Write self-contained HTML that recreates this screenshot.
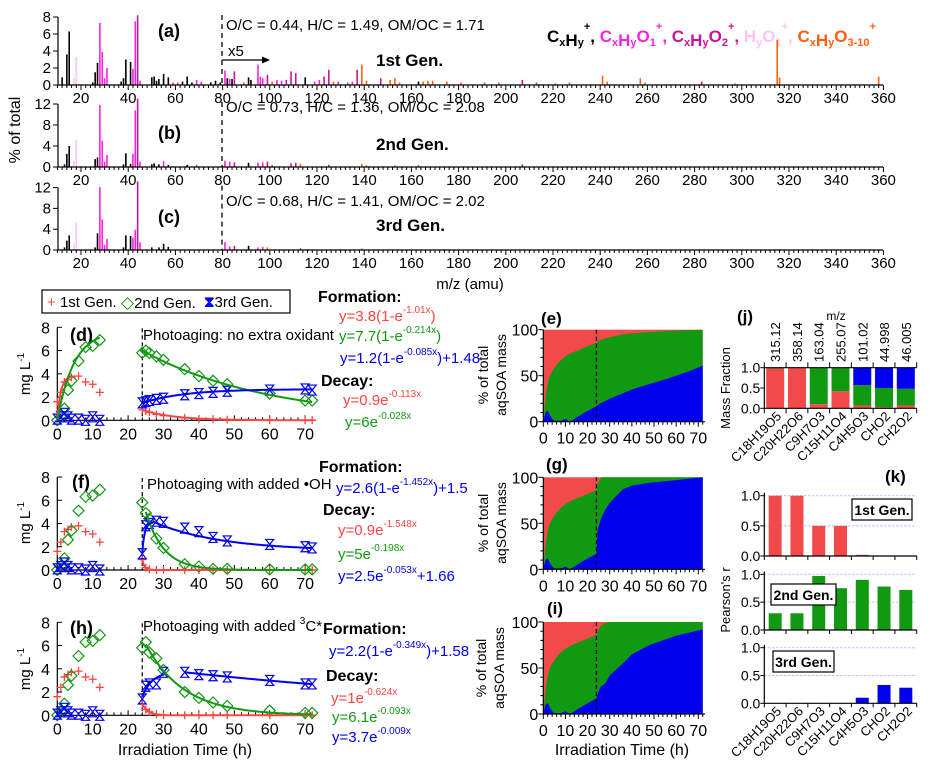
<!DOCTYPE html>
<html><head><meta charset="utf-8">
<style>
html,body{margin:0;padding:0;background:#fff;}
svg{display:block;font-family:"Liberation Sans",Arial,sans-serif;}
.hd{font-size:16px;}
</style></head>
<body>
<svg id="fig" width="932" height="772" viewBox="0 0 932 772" xmlns="http://www.w3.org/2000/svg">
<rect width="932" height="772" fill="#fff"/>
<text x="20" y="130" font-size="16" text-anchor="middle" transform="rotate(-90 20 130)">% of total</text>
<text x="470" y="289" font-size="15" text-anchor="middle">m/z (amu)</text>
<text x="158" y="37" font-size="18" font-weight="bold">(a)</text>
<text x="158" y="139" font-size="18" font-weight="bold">(b)</text>
<text x="158" y="223" font-size="18" font-weight="bold">(c)</text>
<text x="226" y="30" font-size="15">O/C = 0.44, H/C = 1.49, OM/OC = 1.71</text>
<text x="226" y="112" font-size="15">O/C = 0.73, H/C = 1.36, OM/OC = 2.08</text>
<text x="226" y="206" font-size="15">O/C = 0.68, H/C = 1.41, OM/OC = 2.02</text>
<text x="228" y="56" font-size="15">x5</text>
<line x1="222" y1="60" x2="264" y2="60" stroke="#000" stroke-width="1.2"/>
<polygon points="270,60 262,56.5 262,63.5" fill="#000"/>
<text x="376" y="66" font-size="17" font-weight="bold">1st Gen.</text>
<text x="376" y="150" font-size="17" font-weight="bold">2nd Gen.</text>
<text x="376" y="231" font-size="17" font-weight="bold">3rd Gen.</text>
<text x="547" y="42" font-size="17" font-weight="bold"><tspan fill="#000">C<tspan font-size="11" dy="4">x</tspan>H<tspan font-size="11" dy="0">y</tspan><tspan font-size="11" dy="-16">+</tspan><tspan dy="12">, </tspan></tspan><tspan fill="#ff22dd">C<tspan font-size="11" dy="4">x</tspan>H<tspan font-size="11">y</tspan><tspan dy="-4">O</tspan><tspan font-size="11" dy="4">1</tspan><tspan font-size="11" dy="-16">+</tspan><tspan dy="12">, </tspan></tspan><tspan fill="#c8149b">C<tspan font-size="11" dy="4">x</tspan>H<tspan font-size="11">y</tspan><tspan dy="-4">O</tspan><tspan font-size="11" dy="4">2</tspan><tspan font-size="11" dy="-16">+</tspan><tspan dy="12">, </tspan></tspan><tspan fill="#ffc4f2">H<tspan font-size="11" dy="4">y</tspan><tspan dy="-4">O</tspan><tspan font-size="11" dy="4">1</tspan><tspan font-size="11" dy="-16">+</tspan><tspan dy="12">, </tspan></tspan><tspan fill="#ff6010">C<tspan font-size="11" dy="4">x</tspan>H<tspan font-size="11">y</tspan><tspan dy="-4">O</tspan><tspan font-size="11" dy="4">3-10</tspan><tspan font-size="11" dy="-16">+</tspan></tspan></text>

<rect x="42" y="290" width="248" height="23" fill="#fff" stroke="#000" stroke-width="1.2"/>
<text x="47" y="307" font-size="15" fill="#ff4444">+ <tspan fill="#000">1st Gen.</tspan></text>
<text x="121" y="308" font-size="17" fill="#119911">◇<tspan fill="#000" font-size="15">2nd Gen.</tspan></text>
<text x="204" y="307" font-size="15" fill="#0000ee" font-weight="bold">⧗<tspan fill="#000" font-weight="normal">3rd Gen.</tspan></text>

<text x="30" y="374" font-size="15" text-anchor="middle" transform="rotate(-90 30 374)">mg L<tspan font-size="10" dy="-6">-1</tspan></text>
<text x="30" y="523" font-size="15" text-anchor="middle" transform="rotate(-90 30 523)">mg L<tspan font-size="10" dy="-6">-1</tspan></text>
<text x="30" y="669" font-size="15" text-anchor="middle" transform="rotate(-90 30 669)">mg L<tspan font-size="10" dy="-6">-1</tspan></text>
<text x="70" y="341" font-size="18" font-weight="bold">(d)</text>
<text x="72" y="488" font-size="18" font-weight="bold">(f)</text>
<text x="70" y="634" font-size="18" font-weight="bold">(h)</text>
<text x="143" y="340" font-size="15">Photoaging: no extra oxidant</text>
<text x="147" y="489" font-size="15">Photoaging with added •OH</text>
<text x="143" y="631" font-size="15">Photoaging with added <tspan font-size="10" dy="-7">3</tspan><tspan dy="7">C*</tspan></text>
<text x="185" y="755" font-size="16" text-anchor="middle">Irradiation Time (h)</text>

<g font-size="15">
<text x="318" y="302" font-weight="bold" class="hd" fill="#000">Formation:</text>
<text x="339" y="321" fill="#ff4444">y=3.8(1-e<tspan font-size="10" dy="-8">-1.01x</tspan><tspan dy="8">)</tspan></text>
<text x="339" y="341" fill="#119911">y=7.7(1-e<tspan font-size="10" dy="-8">-0.214x</tspan><tspan dy="8">)</tspan></text>
<text x="340" y="363" fill="#0000ee">y=1.2(1-e<tspan font-size="10" dy="-8">-0.085x</tspan><tspan dy="8">)+1.48</tspan></text>
<text x="321" y="386" font-weight="bold" class="hd" fill="#000">Decay:</text>
<text x="343" y="405" fill="#ff4444">y=0.9e<tspan font-size="10" dy="-8">-0.113x</tspan></text>
<text x="345" y="427" fill="#119911">y=6e<tspan font-size="10" dy="-8">-0.028x</tspan></text>
</g>
<g font-size="15">
<text x="319" y="472" font-weight="bold" class="hd" fill="#000">Formation:</text>
<text x="336" y="493" fill="#0000ee">y=2.6(1-e<tspan font-size="10" dy="-8">-1.452x</tspan><tspan dy="8">)+1.5</tspan></text>
<text x="323" y="515" font-weight="bold" class="hd" fill="#000">Decay:</text>
<text x="338" y="535" fill="#ff4444">y=0.9e<tspan font-size="10" dy="-8">-1.548x</tspan></text>
<text x="338" y="559" fill="#119911">y=5e<tspan font-size="10" dy="-8">-0.198x</tspan></text>
<text x="338" y="581" fill="#0000ee">y=2.5e<tspan font-size="10" dy="-8">-0.053x</tspan><tspan dy="8">+1.66</tspan></text>
</g>
<g font-size="15">
<text x="323" y="634" font-weight="bold" class="hd" fill="#000">Formation:</text>
<text x="329" y="656" fill="#0000ee">y=2.2(1-e<tspan font-size="10" dy="-8">-0.349x</tspan><tspan dy="8">)+1.58</tspan></text>
<text x="326" y="681" font-weight="bold" class="hd" fill="#000">Decay:</text>
<text x="331" y="703" fill="#ff4444">y=1e<tspan font-size="10" dy="-8">-0.624x</tspan></text>
<text x="332" y="722" fill="#119911">y=6.1e<tspan font-size="10" dy="-8">-0.093x</tspan></text>
<text x="332" y="742" fill="#0000ee">y=3.7e<tspan font-size="10" dy="-8">-0.009x</tspan></text>
</g>

<text x="541" y="324" font-size="17" font-weight="bold">(e)</text>
<text x="546" y="470" font-size="17" font-weight="bold">(g)</text>
<text x="547" y="614" font-size="17" font-weight="bold">(i)</text>
<g font-size="14">
<text x="488" y="375" text-anchor="middle" transform="rotate(-90 488 375)">% of total</text>
<text x="506" y="375" text-anchor="middle" transform="rotate(-90 506 375)">aqSOA mass</text>
<text x="488" y="523" text-anchor="middle" transform="rotate(-90 488 523)">% of total</text>
<text x="506" y="523" text-anchor="middle" transform="rotate(-90 506 523)">aqSOA mass</text>
<text x="486" y="668" text-anchor="middle" transform="rotate(-90 486 668)">% of total</text>
<text x="504" y="668" text-anchor="middle" transform="rotate(-90 504 668)">aqSOA mass</text>
</g>
<text x="622" y="755" font-size="16" text-anchor="middle">Irradiation Time (h)</text>

<text x="737" y="322" font-size="17" font-weight="bold">(j)</text>
<text x="836" y="320" font-size="12" text-anchor="middle">m/z</text>
<text x="730" y="388" font-size="13" text-anchor="middle" transform="rotate(-90 730 388)">Mass Fraction</text>
<text x="885" y="482" font-size="17" font-weight="bold">(k)</text>
<text x="730" y="600" font-size="13" text-anchor="middle" transform="rotate(-90 730 600)">Pearson's r</text>
<rect x="852" y="499" width="60" height="21" fill="#fff" stroke="#000" stroke-width="1.2"/>
<text x="882" y="515" font-size="14" font-weight="bold" text-anchor="middle">1st Gen.</text>
<g id="layer"></g>
<rect x="771" y="584" width="65" height="21" fill="#fff" stroke="#000" stroke-width="1.2"/>
<text x="803.5" y="600" font-size="14" font-weight="bold" text-anchor="middle">2nd Gen.</text>
<rect x="773" y="651" width="61" height="21" fill="#fff" stroke="#000" stroke-width="1.2"/>
<text x="803.5" y="667" font-size="14" font-weight="bold" text-anchor="middle">3rd Gen.</text>
</svg>
<script>
const spectrumA = [[12,0.9,0],[14,3.6,0],[15,6.3,0],[17,0.8,3],[18,3.3,3],[25,0.3,0],[26,1.5,0],[27,2.6,0],[28,7.3,1],[29,3.9,1],[30,0.8,1],[31,2.0,1],[37,0.4,0],[38,0.8,0],[39,3.0,0],[41,2.7,0],[42,1.9,1],[43,7.5,1],[44,8.2,2],[45,0.5,1],[50,0.9,0],[51,1.0,0],[52,0.5,0],[53,0.7,0],[55,1.3,0],[57,0.9,0],[59,0.3,1],[61,0.3,1],[63,0.4,0],[65,1.0,0],[67,0.3,0],[69,0.6,1],[71,0.4,1],[75,0.3,0],[77,0.5,0],[79,0.3,0],[81,1.7,1],[82,0.8,0],[83,0.7,1],[84,0.7,0],[85,1.6,2],[89,0.3,1],[91,0.9,0],[92,0.6,0],[95,2.4,1],[96,1.0,1],[97,0.8,1],[99,1.2,2],[101,0.4,4],[103,0.6,1],[105,0.5,1],[107,0.6,2],[109,1.6,2],[111,1.4,2],[115,0.9,0],[119,0.4,1],[121,0.6,1],[123,1.0,2],[125,1.8,2],[127,0.4,4],[129,0.4,1],[133,0.3,1],[135,0.4,1],[137,1.8,2],[139,2.4,4],[141,0.5,4],[147,0.8,2],[151,0.6,4],[153,0.8,4],[155,0.3,4],[163,0.4,0],[165,0.4,4],[167,0.5,4],[169,0.5,4],[175,0.4,4],[181,0.3,4],[191,0.3,1],[197,0.3,4],[207,0.6,2],[213,0.3,1],[221,0.2,4],[227,0.3,4],[241,1.1,4],[243,0.4,4],[257,0.8,4],[259,0.3,4],[283,0.4,2],[297,0.2,4],[315,5.3,4],[316,0.9,4],[358,1.0,4]];
const spectrumB = [[13,0.5,0],[14,2.5,0],[15,4.0,0],[17,1.2,3],[18,5.2,3],[26,1.5,0],[27,1.8,0],[28,11.8,1],[29,5.0,1],[30,1.0,1],[31,2.3,1],[38,0.5,0],[39,2.6,0],[41,0.6,0],[42,2.5,1],[43,10.8,1],[44,13.0,2],[45,1.0,1],[50,0.5,0],[51,0.7,0],[53,0.5,0],[55,1.1,1],[57,0.4,0],[65,0.4,0],[69,0.4,1],[81,1.2,1],[83,1.0,1],[85,0.9,2],[91,0.8,0],[95,0.8,1],[97,0.9,1],[99,1.0,2],[101,0.4,4],[109,0.7,2],[111,0.8,2],[113,0.6,4],[125,0.4,2],[139,0.6,4],[141,0.3,4],[153,0.3,4],[163,0.4,4],[207,0.5,2]];
const spectrumC = [[13,0.5,0],[14,1.8,0],[15,2.8,0],[17,1.3,3],[18,5.3,3],[26,0.5,0],[27,3.2,0],[28,12.1,1],[29,5.9,1],[30,1.0,1],[31,2.1,1],[38,0.5,0],[39,2.8,0],[41,2.7,0],[42,2.4,1],[43,3.9,1],[44,13.2,2],[45,1.5,1],[50,0.5,0],[53,0.5,0],[55,1.2,0],[57,0.6,0],[81,1.5,1],[83,0.7,1],[85,0.8,2],[91,0.8,0],[95,0.5,1],[97,0.6,1],[99,0.5,4],[113,0.4,4],[139,0.3,4]];
const ionColors = ['#000000','#ff22dd','#c8149b','#ffc4f2','#ff6010'];

const timesPre = [0,1,2,3,4,6,8,10,12];
const red1Pre = [1.6,2.4,3.3,3.5,3.7,3.8,3.3,3.1,2.4];
const green2Pre = [0,0.3,1.0,2.6,3.4,5.1,6.3,6.4,6.9];
const blue3Pre = [0.1,0.3,0.6,0.3,0.1,0.1,0.0,0.3,0.0];
const timesPost = [24,25,26,28,30,36,40,44,48,60,70,72];
const dRed = [0.9,0.8,0.7,0.5,0.4,0.2,0.1,0.1,0.05,0.02,0.01,0.01];
const dGreen = [5.8,6.0,5.8,5.5,5.2,4.4,3.8,3.4,3.1,2.3,1.7,1.7];
const dBlue = [1.5,1.6,1.7,1.8,1.9,2.2,2.3,2.4,2.5,2.6,2.7,2.6];
const fRed = [0.9,0.2,0.05,0,0,0,0,0,0,0,0,0];
const fGreen = [5.8,4.9,4.4,2.7,1.9,0.5,0.3,0.1,0.1,0.05,0.05,0.05];
const fBlue = [1.4,3.8,4.0,4.2,4.1,3.6,3.3,2.8,2.5,2.2,2.0,1.9];
const hRed = [1.0,0.5,0.3,0.1,0,0,0,0,0,0,0,0];
const hGreen = [5.8,6.3,5.4,4.9,3.9,2.0,1.5,1.1,0.8,0.4,0.2,0.2];
const hBlue = [1.4,2.5,2.7,2.7,3.7,3.7,3.5,3.4,3.3,3.0,2.7,2.7];
const fitsPre = [['form',3.8,1.01,0,0,5,'#ff4444'],['form',7.7,0.214,0,0,12,'#119911']];
const fitsD = [['decay',0.9,0.113,0,24,72,'#ff4444'],['decay',6,0.028,0,24,72,'#119911'],['form',1.2,0.085,1.48,24,72,'#0000ee']];
const fitsF = [['decay',0.9,1.548,0,24,72,'#ff4444'],['decay',5,0.198,0,25,72,'#119911'],['form',2.6,1.452,1.5,24,27,'#0000ee'],['decay',2.5,0.053,1.66,27,72,'#0000ee']];
const fitsH = [['decay',1,0.624,0,24,72,'#ff4444'],['decay',6.1,0.093,0,25,72,'#119911'],['form',2.2,0.349,1.58,24,30,'#0000ee'],['decay',3.7,0.009,0,36,72,'#0000ee']];

const eTimes = [0,1,2,3,4,5,6,8,10,12,18,24,26,30,36,40,48,55,60,66,72];
const eBlue = [0,10,12,7,3,1,1,1,3,0,9,17,20,25,31,35,41,46,50,55,61];
const eGreen = [0,25,42,50,55,58,62,67,71,74,80,86,89,92,95,96,97.5,98.5,99,99.5,100];
const gTimes = [0,1,2,3,4,5,6,8,10,12,18,24,24.5,26,28,30,33,36,40,48,60,72];
const gBlue = [0,10,12,7,3,1,1,1,3,0,9,17,42,55,65,72,80,87,91,94,97,100];
const gGreen = [0,25,42,50,55,58,62,67,71,74,80,86,92,100,100,100,100,100,100,100,100,100];
const iTimes = [0,1,2,3,4,5,6,8,10,12,18,24,25,26,28,30,36,40,48,60,72];
const iBlue = [0,10,12,7,3,1,1,1,3,0,9,17,25,30,33,42,55,65,75,85,92];
const iGreen = [0,25,42,50,55,58,62,67,71,74,80,86,92,96,99,100,100,100,100,100,100];

const species = ['C18H19O5','C20H22O6','C9H7O3','C15H11O4','C4H5O3','CHO2','CH2O2'];
const speciesMz = ['315.12','358.14','163.04','255.07','101.02','44.998','46.005'];
const fracRed = [0.98,1.0,0.1,0.42,0.07,0.03,0.07];
const fracGreen = [0.02,0,0.9,0.58,0.5,0.47,0.41];
const fracBlue = [0,0,0,0,0.43,0.5,0.52];
const r1st = [1,1,0.5,0.5,0.02,0,0];
const r2nd = [0.3,0.3,0.97,0.75,0.9,0.78,0.72];
const r3rd = [0,0,0,0,0.1,0.33,0.28];

const NS='http://www.w3.org/2000/svg';
const svg=document.getElementById('layer');
function E(tag,a,p){const e=document.createElementNS(NS,tag);for(const k in a)e.setAttribute(k,a[k]);(p||svg).appendChild(e);return e;}
function nm(e,n){
  
  
}
function T(x,y,s,opts){const e=E('text',Object.assign({x:x,y:y,'font-size':15},opts||{}));e.textContent=s;return e;}

const xM=m=>81+(m-20)*2.36;
function spectrum(data,y0,ppu,ticks,ymax,tag){
  const g=E('g',{});
  nm(g,'spectrum-'+tag);
  data.forEach(d=>{const l=E('line',{x1:xM(d[0]),x2:xM(d[0]),y1:y0,y2:y0-d[1]*ppu,stroke:ionColors[d[2]],'stroke-width':1.6},g);
    });
  const ax=E('line',{x1:58,x2:883,y1:y0,y2:y0,stroke:'#000','stroke-width':1.2},g);
  nm(ax,'x-axis-'+tag);
  for(let m=10;m<=360;m+=2){const big=m%20===0;E('line',{x1:xM(m),x2:xM(m),y1:y0,y2:y0+(big?5:3),stroke:'#000','stroke-width':1},g);
    if(big&&m>=20){const t=T(xM(m),y0+18,String(m),{'text-anchor':'middle'});nm(t,'x-tick-'+tag+'-'+m);}}
  const ay=E('line',{x1:58,x2:58,y1:y0,y2:y0-ymax*ppu,stroke:'#000','stroke-width':1.2},g);
  nm(ay,'y-axis-'+tag);
  ticks.forEach(v=>{E('line',{x1:53,x2:58,y1:y0-v*ppu,y2:y0-v*ppu,stroke:'#000'},g);const t=T(51,y0-v*ppu+5,String(v),{'text-anchor':'end'});nm(t,'y-tick-'+tag+'-'+v);});
  const dl=E('line',{x1:222,x2:222,y1:y0-ymax*ppu-2,y2:y0,stroke:'#000','stroke-width':1.3,'stroke-dasharray':'5,4'},g);
  nm(dl,'divider-'+tag);
}
spectrum(spectrumA,85,8.5,[0,2,4,6,8],8,'a');
spectrum(spectrumB,167,5.25,[0,4,8,12],12,'b');
spectrum(spectrumC,250,5.2,[0,4,8,12],12,'c');

const xT=t=>57.3+t*3.54;
function fitVal(f,t){const x=t-f[4];return f[0]==='form'?f[1]*(1-Math.exp(-f[2]*x))+f[3]:f[1]*Math.exp(-f[2]*x)+f[3];}
function marker(type,x,y,g){let e;
  if(type==0) e=E('path',{d:`M${x-4},${y}H${x+4}M${x},${y-4}V${y+4}`,stroke:'#ff4444','stroke-width':1.3,fill:'none'},g);
  else if(type==1) e=E('path',{d:`M${x},${y-5.5}L${x+5.5},${y}L${x},${y+5.5}L${x-5.5},${y}Z`,stroke:'#119911','stroke-width':1.2,fill:'none'},g);
  else e=E('path',{d:`M${x-4},${y-5}H${x+4}L${x-4},${y+5}H${x+4}Z`,stroke:'#0000ee','stroke-width':1.2,fill:'none'},g);
  return e;}
function addFits(y0,fits,tag){const yV=v=>y0-v*93/8;const g=E('g',{});nm(g,'fits-'+tag);
  fits.forEach((f,i)=>{let d='';for(let t=f[4];t<=f[5]+0.001;t+=0.25){d+=(d?'L':'M')+xT(t).toFixed(1)+','+yV(fitVal(f,t)).toFixed(1);}
    const p=E('path',{d:d,stroke:f[6],'stroke-width':2,fill:'none'},g);
    nm(p,'fit-curve-'+tag+'-'+i);});}
function tsPanel(y0,post,fits,tag){
  const yV=v=>y0-v*93/8;
  const g=E('g',{});
  nm(g,'timeseries-'+tag);
  const ax=E('line',{x1:57.3,x2:316,y1:y0,y2:y0,stroke:'#000','stroke-width':1.2},g);
  nm(ax,'x-axis-'+tag);
  for(let t=0;t<=72;t+=2){const big=t%10===0;E('line',{x1:xT(t),x2:xT(t),y1:y0,y2:y0-(big?5:3),stroke:'#000'},g);
    if(big){const tx=T(xT(t),y0+19,String(t),{'text-anchor':'middle','font-size':16});nm(tx,'x-tick-'+tag+'-'+t);}}
  const ay=E('line',{x1:57.3,x2:57.3,y1:y0,y2:y0-93,stroke:'#000','stroke-width':1.2},g);
  nm(ay,'y-axis-'+tag);
  for(let v=0;v<=8;v+=2){E('line',{x1:57.3,x2:62,y1:yV(v),y2:yV(v),stroke:'#000'},g);const tx=T(50,yV(v)+6,String(v),{'text-anchor':'end','font-size':16});nm(tx,'y-tick-'+tag+'-'+v);}
  const dl=E('line',{x1:xT(24),x2:xT(24),y1:y0-92,y2:y0,stroke:'#000','stroke-width':1.2,'stroke-dasharray':'4,3'},g);
  nm(dl,'divider-'+tag);
  addFits(y0,fits,tag);
  [[red1Pre,0],[green2Pre,1],[blue3Pre,2]].forEach(s=>s[0].forEach((v,i)=>{const m=marker(s[1],xT(timesPre[i]),yV(v),g);nm(m,'point-'+tag+'-gen'+(s[1]+1));}));
  post.forEach((arr,k)=>arr.forEach((v,i)=>{const m=marker(k,xT(timesPost[i]),yV(v),g);nm(m,'point-'+tag+'-gen'+(k+1));}));
}
tsPanel(420.3,[dRed,dGreen,dBlue],fitsPre.concat(fitsD),'d');
tsPanel(570,[fRed,fGreen,fBlue],fitsF,'f');
tsPanel(715.3,[hRed,hGreen,hBlue],fitsH,'h');

const xA=t=>543.3+t*2.214;
function areaPanel(y0,times,blue,green,tag){
  const yP=p=>y0-p*0.92;
  const g=E('g',{});
  nm(g,'area-'+tag);
  const r=E('rect',{x:xA(0),y:yP(100),width:xA(72)-xA(0),height:92,fill:'#f24a4a'},g);
  nm(r,'area-1st-'+tag);
  let dG=`M${xA(times[0])},${y0}`;times.forEach((t,i)=>dG+=`L${xA(t).toFixed(1)},${yP(green[i]).toFixed(1)}`);dG+=`L${xA(times[times.length-1])},${y0}Z`;
  const pg=E('path',{d:dG,fill:'#129912'},g);
  nm(pg,'area-2nd-'+tag);
  let dB=`M${xA(times[0])},${y0}`;times.forEach((t,i)=>dB+=`L${xA(t).toFixed(1)},${yP(blue[i]).toFixed(1)}`);dB+=`L${xA(times[times.length-1])},${y0}Z`;
  const pb=E('path',{d:dB,fill:'#0000ee'},g);
  nm(pb,'area-3rd-'+tag);
  const dl=E('line',{x1:xA(24),x2:xA(24),y1:yP(100),y2:y0,stroke:'#000','stroke-width':1.3,'stroke-dasharray':'4,3'},g);
  nm(dl,'divider-'+tag);
  const ax=E('line',{x1:xA(0),x2:xA(73),y1:y0,y2:y0,stroke:'#000','stroke-width':1.2},g);
  nm(ax,'x-axis-'+tag);
  for(let t=0;t<=72;t+=2){const big=t%10===0;E('line',{x1:xA(t),x2:xA(t),y1:y0,y2:y0+(big?5:3),stroke:'#000'},g);
    if(big){const tx=T(xA(t),y0+22,String(t),{'text-anchor':'middle','font-size':16});nm(tx,'x-tick-'+tag+'-'+t);}}
  const ay=E('line',{x1:xA(0),x2:xA(0),y1:y0,y2:yP(100),stroke:'#000','stroke-width':1.2},g);
  nm(ay,'y-axis-'+tag);
  for(let p=0;p<=100;p+=10){const big=p%50===0;E('line',{x1:xA(0)-(big?5:3),x2:xA(0),y1:yP(p),y2:yP(p),stroke:'#000'},g);
    if(big){const tx=T(xA(0)-5,yP(p)+6,String(p),{'text-anchor':'end','font-size':16});nm(tx,'y-tick-'+tag+'-'+p);}}
}
areaPanel(421.7,eTimes,eBlue,eGreen,'e');
areaPanel(569.3,gTimes,gBlue,gGreen,'g');
areaPanel(714,iTimes,iBlue,iGreen,'i');

const xL=764.3, xR=916.7, cw=(xR-xL)/7;
const xB=i=>xL+(i+0.5)*cw;
function catLabels(y,tag){species.forEach((s,i)=>{const x=xB(i)+7;const t=T(x,y,s,{'text-anchor':'end','font-size':13,transform:`rotate(-45 ${x} ${y})`});nm(t,'category-label-'+tag+'-'+s);});}
(function(){
  const y0=408.3, s=40.6, g=E('g',{});
  nm(g,'mass-fraction-chart');
  species.forEach((sp,i)=>{
    const segs=[[fracRed[i],'#f24a4a','red'],[fracGreen[i],'#129912','green'],[fracBlue[i],'#0000ee','blue']];
    let base=0;
    segs.forEach(sg=>{if(sg[0]>0){const r=E('rect',{x:xB(i)-9,y:y0-(base+sg[0])*s,width:18,height:sg[0]*s,fill:sg[1]},g);nm(r,'bar-'+sp+'-'+sg[2]);}base+=sg[0];});
    const t=T(xB(i)+5,362,speciesMz[i],{'font-size':13,transform:`rotate(-90 ${xB(i)+5} 362)`});nm(t,'mz-label-'+sp);
  });
  E('line',{x1:xL,x2:xR,y1:y0,y2:y0,stroke:'#000','stroke-width':1.2},g);
  E('line',{x1:xL,x2:xR,y1:y0-40.6,y2:y0-40.6,stroke:'#000','stroke-width':1.2},g);
  E('line',{x1:xL,x2:xL,y1:y0,y2:y0-40.6,stroke:'#000','stroke-width':1.2},g);
  for(let i=0;i<=7;i++){E('line',{x1:xL+i*cw,x2:xL+i*cw,y1:y0,y2:y0+5,stroke:'#000'},g);E('line',{x1:xL+i*cw,x2:xL+i*cw,y1:y0-40.6,y2:y0-46,stroke:'#000'},g);}
  [0,0.5,1].forEach(v=>{E('line',{x1:xL-4,x2:xL,y1:y0-v*s,y2:y0-v*s,stroke:'#000'},g);const t=T(xL-4,y0-v*s+5,v.toFixed(1),{'text-anchor':'end','font-size':14});nm(t,'y-tick-j-'+v);});
  catLabels(417,'j');
})();
function kPanel(y0,top,vals,color,tag){
  const h=y0-top;
  const yR=v=>y0-v*h;
  const g=E('g',{});
  nm(g,'pearson-'+tag);
  [0.5,1].forEach(v=>E('line',{x1:xL,x2:xR,y1:yR(v),y2:yR(v),stroke:'#aab0ff','stroke-width':1,'stroke-dasharray':'2,2'},g));
  vals.forEach((v,i)=>{if(v>0){const r=E('rect',{x:xB(i)-6.5,y:yR(v),width:13,height:v*h,fill:color},g);nm(r,'bar-'+tag+'-'+species[i]);}});
  E('line',{x1:xL,x2:xR,y1:y0,y2:y0,stroke:'#000','stroke-width':1.2},g);
  E('line',{x1:xL,x2:xL,y1:y0,y2:yR(1.05),stroke:'#000','stroke-width':1.2},g);
  for(let i=0;i<=7;i++)E('line',{x1:xL+i*cw,x2:xL+i*cw,y1:y0,y2:y0+4,stroke:'#000'},g);
  [0,0.5,1].forEach(v=>{E('line',{x1:xL-4,x2:xL,y1:yR(v),y2:yR(v),stroke:'#000'},g);const t=T(xL-4,yR(v)+5,v.toFixed(1),{'text-anchor':'end','font-size':14});nm(t,'y-tick-'+tag+'-'+v);});
}
kPanel(556,495.7,r1st,'#f24a4a','k1');
kPanel(630,574.3,r2nd,'#129912','k2');
kPanel(703.3,647.7,r3rd,'#0000ee','k3');
catLabels(712,'k');
</script>
</body></html>
